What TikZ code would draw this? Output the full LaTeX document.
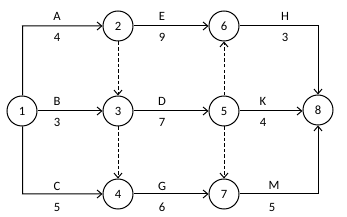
\documentclass[tikz,border=0pt]{standalone}
\usepackage{fontspec}
\setmainfont{Carlito}
\usetikzlibrary{arrows.meta}
\begin{document}
\begin{tikzpicture}[x=0.75pt,y=-0.75pt,
  ev/.style={draw,circle,line width=0.75pt,minimum size=22.5pt,inner sep=0pt,font=\fontsize{9.5}{11}\selectfont},
  lbl/.style={font=\fontsize{9.5}{11}\selectfont,inner sep=0pt},
  act/.style={line width=0.75pt,-{Straight Barb[length=3.5pt,width=6pt,line width=0.75pt]}},
  dum/.style={act,dash pattern=on 2.6pt off 1.6pt}]
\useasboundingbox (0,0) rectangle (347,217);
\node[ev] (n1) at (22,111) {1};
\node[ev] (n2) at (118,26) {2};
\node[ev] (n3) at (118,111) {3};
\node[ev] (n4) at (118,194) {4};
\node[ev] (n6) at (224,26) {6};
\node[ev] (n5) at (224,111) {5};
\node[ev] (n7) at (224,194) {7};
\node[ev] (n8) at (318,110) {8};
\coordinate (c1) at (22.5,26);
\coordinate (c2) at (22.5,194);
\coordinate (c3) at (318,26);
\coordinate (c4) at (318,194);
\draw[act] ([xshift=0.5pt]n1.north) -- (c1) -- (n2);
\draw[act] (n2) -- (n6);
\draw[act] (n6) -- (c3) -- (n8);
\draw[act] (n1) -- (n3);
\draw[act] (n3) -- (n5);
\draw[act] (n5) -- (n5 -| n8.west);
\draw[act] ([xshift=0.5pt]n1.south) -- (c2) -- (n4);
\draw[act] (n4) -- (n7);
\draw[act] (n7) -- (c4) -- (n8);
\draw[dum] (n2) -- (n3);
\draw[dum] (n3) -- (n4);
\draw[dum] (n5) -- (n6);
\draw[dum] (n5) -- (n7);
\node[lbl] (la) at (57,16) {A};
\node[lbl] (wa) at (57,37) {4};
\node[lbl] (le) at (162,16) {E};
\node[lbl] (we) at (162,37) {9};
\node[lbl] (lh) at (285,16) {H};
\node[lbl] (wh) at (285,37) {3};
\node[lbl] (lb) at (57,101) {B};
\node[lbl] (wb) at (57,122) {3};
\node[lbl] (ld) at (162,101) {D};
\node[lbl] (wd) at (162,122) {7};
\node[lbl] (lk) at (263,101) {K};
\node[lbl] (wk) at (263,122) {4};
\node[lbl] (lc) at (57,186) {C};
\node[lbl] (wc) at (57,207) {5};
\node[lbl] (lg) at (162,186) {G};
\node[lbl] (wg) at (162,207) {6};
\node[lbl] (lm) at (274,185) {M};
\node[lbl] (wm) at (272,207) {5};
\end{tikzpicture}
\end{document}
